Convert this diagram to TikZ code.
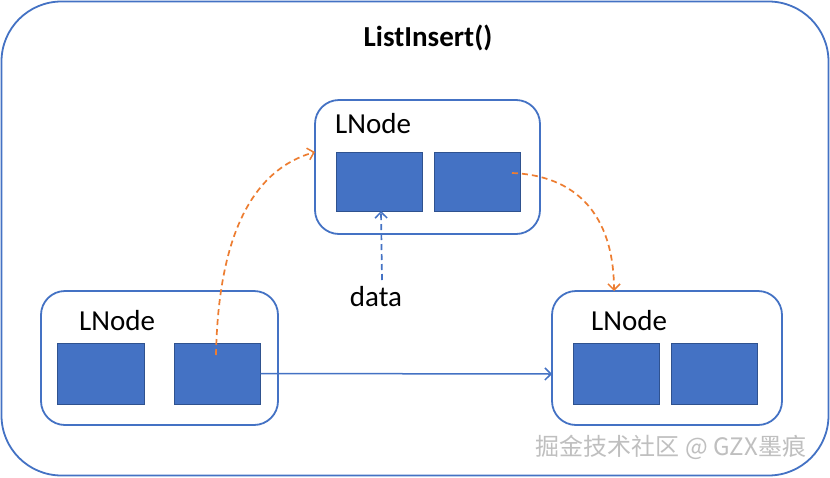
\documentclass[tikz,border=0pt]{standalone}
\usepackage{fontspec}
\setmainfont{Carlito}
\newfontfamily\cjkfont{Noto Sans CJK SC}
\usetikzlibrary{arrows.meta}
\definecolor{obl}{HTML}{4472C4}
\definecolor{dbl}{HTML}{2F528F}
\definecolor{org}{HTML}{ED7D31}
\tikzset{
  outerbox/.style={draw=obl, line width=1.8pt, rounded corners=60pt},
  nodebox/.style={draw=obl, line width=1.8pt, rounded corners=24pt},
  cell/.style={draw=dbl, line width=1pt, fill=obl, inner sep=0pt},
  lbl/.style={font=\fontsize{29}{32}\selectfont, anchor=west, inner sep=0pt},
  odash/.style={draw=org, line width=1.7pt, dash pattern=on 6pt off 4pt, -{Straight Barb[length=6pt,width=12pt,line width=1.5pt]}},
  bdash/.style={draw=obl, line width=1.7pt, dash pattern=on 6pt off 4pt, -{Straight Barb[length=6pt,width=12pt,line width=1.5pt]}},
  bsolid/.style={draw=obl, line width=1.5pt, -{Straight Barb[length=6pt,width=12pt,line width=1.5pt]}}
}
\begin{document}
\begin{tikzpicture}[x=1pt,y=-1pt]
\useasboundingbox (0,0) rectangle (830,477);
\fill[white] (0,0) rectangle (830,477);
\draw[outerbox] (1.5,1.5) rectangle (828.5,475.5);
\node[font=\bfseries\fontsize{29}{32}\selectfont, inner sep=0pt] (title) at (428,38) {ListInsert()};
% top node
\draw[nodebox] (315,100) rectangle (540,234);
\coordinate (topL) at (315,152);
\node[lbl] (tlab) at (335,124) {LNode};
\node[cell, minimum width=86pt, minimum height=59pt] (t1) at (379,181.5) {};
\node[cell, minimum width=86pt, minimum height=59pt] (t2) at (477,181.5) {};
% left node
\draw[nodebox] (41,291) rectangle (278,425);
\node[lbl] (llab) at (79,321) {LNode};
\node[cell, minimum width=87pt, minimum height=61pt] (l1) at (100.5,373.5) {};
\node[cell, minimum width=86pt, minimum height=61pt] (l2) at (217,373.5) {};
% right node
\draw[nodebox] (552,291) rectangle (782,425);
\coordinate (rTop) at (614,291);
\coordinate (rLeft) at (552,374);
\node[lbl] (rlab) at (591,321) {LNode};
\node[cell, minimum width=86pt, minimum height=61pt] (r1) at (616,373.5) {};
\node[cell, minimum width=86pt, minimum height=61pt] (r2) at (714,373.5) {};
% data
\node[font=\fontsize{29}{32}\selectfont, inner sep=0pt] (data) at (376,297) {data};
% connectors
\coordinate (ls) at (216,355);
\draw[odash] (ls) .. controls (218,250) and (245,172) .. (topL);
\coordinate (ts) at (512,173);
\draw[odash] (ts) .. controls (585,176) and (614,225) .. (rTop);
\coordinate (dtop) at (381,211);
\coordinate (dbot) at (382,280);
\draw[bdash] (dbot) -- (dtop);
\draw[bsolid] (l2.east) -- (rLeft);
% watermark
\node[font=\cjkfont\fontsize{24}{26}\selectfont, text=gray!50, inner sep=0pt] (wm) at (671,447) {掘金技术社区 @ GZX墨痕};
\end{tikzpicture}
\end{document}
